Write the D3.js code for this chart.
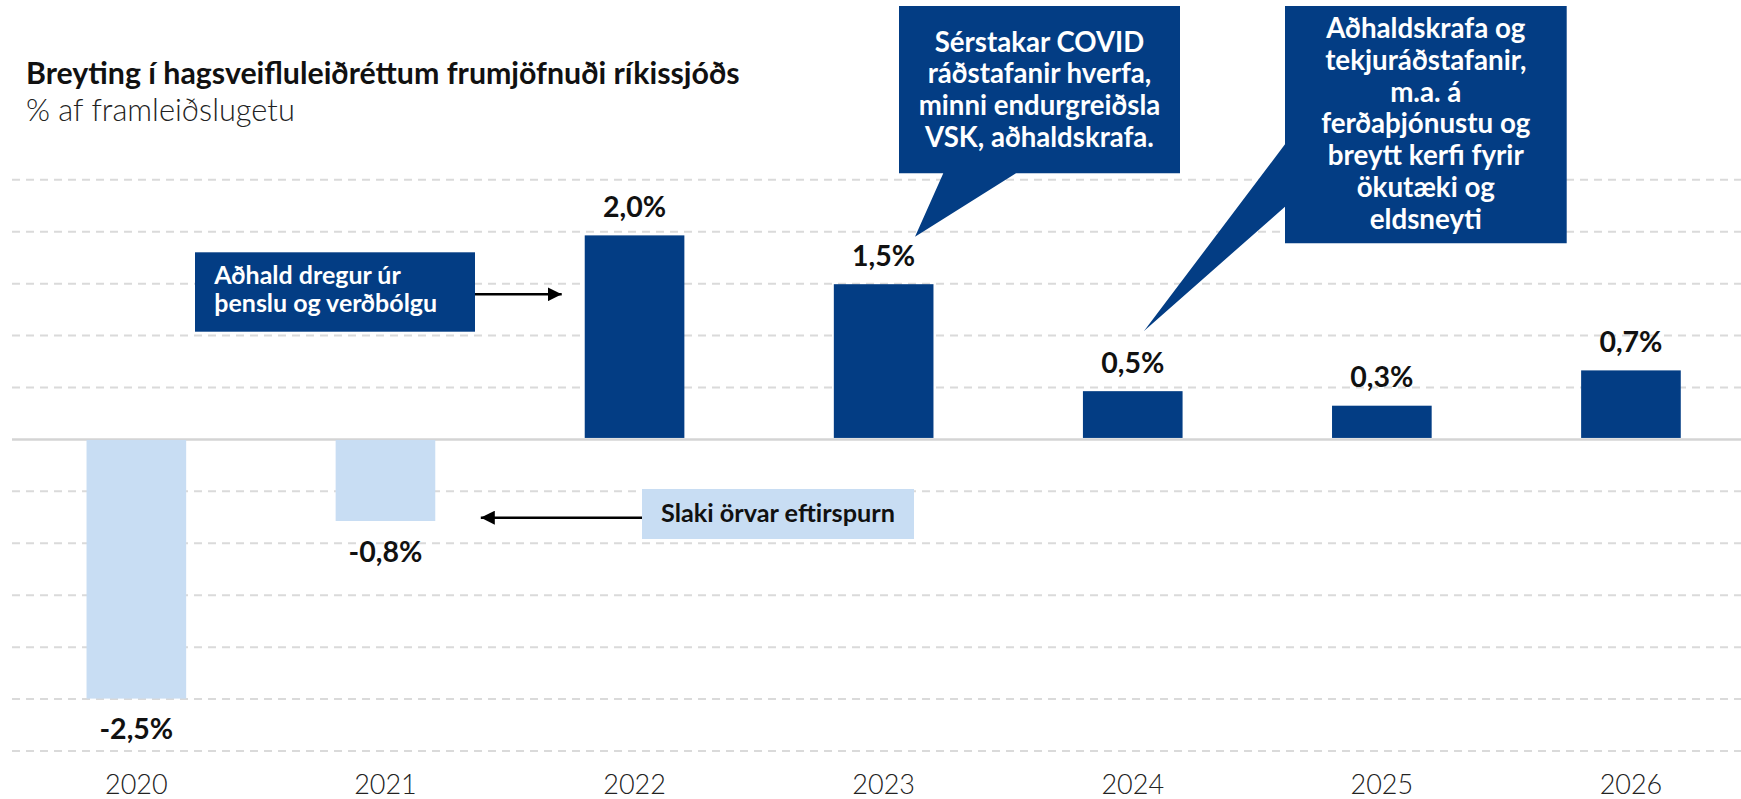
<!DOCTYPE html>
<html>
<head>
<meta charset="utf-8">
<script src="https://cdn.jsdelivr.net/npm/d3@7"></script>
<style>
  html, body { margin: 0; padding: 0; background: #fff; }
  svg { display: block; }
  text { font-family: Lato, "Open Sans", "Noto Sans", sans-serif; }
</style>
</head>
<body>
<svg id="chart" width="1741" height="799"></svg>
<script>
// ---- data ----
const years = ["2020", "2021", "2022", "2023", "2024", "2025", "2026"];
const values = [-2.5, -0.79, 1.96, 1.49, 0.46, 0.32, 0.66];
const yTicks = [-3, -2.5, -2, -1.5, -1, -0.5, 0, 0.5, 1, 1.5, 2, 2.5];
const title = "Breyting í hagsveifluleiðréttum frumjöfnuði ríkissjóðs";
const subtitle = "% af framleiðslugetu";
const noteTighten = ["Aðhald dregur úr", "þenslu og verðbólgu"];
const noteSlack = ["Slaki örvar eftirspurn"];
const note2023 = ["Sérstakar COVID", "ráðstafanir hverfa,", "minni endurgreiðsla", "VSK, aðhaldskrafa."];
const note2024 = ["Aðhaldskrafa og", "tekjuráðstafanir,", "m.a. á", "ferðaþjónustu og", "breytt kerfi fyrir", "ökutæki og", "eldsneyti"];

// ---- setup ----
const W = 1741, H = 799;
const dark = "#033d84", light = "#c8ddf3";
const svg = d3.select("#chart");

const x = d3.scaleBand().domain(years).range([11.8, 1755.5]).paddingInner(0.6).paddingOuter(0.3);
const y = d3.scaleLinear().domain([-3, 2.5]).range([750.5, 179.3]);

const loc = d3.formatLocale({decimal: ",", thousands: ".", grouping: [3], currency: ["", ""], minus: "-"});
const fmt = v => loc.format(".1f")(v) + "%";

function fit(sel, target) {
  const w = sel.node().getComputedTextLength();
  const fs = parseFloat(sel.attr("font-size"));
  sel.attr("font-size", fs * target / w);
}
// size all lines of a text block so that line `idx` gets width `target`
function fitBlock(sel, idx, target) {
  const node = sel.nodes()[idx];
  const w = node.getComputedTextLength();
  const fs = parseFloat(d3.select(node).attr("font-size"));
  sel.attr("font-size", fs * target / w);
}

// ---- title ----
svg.append("text").attr("x", 26).attr("y", 84.3).attr("font-size", 25).attr("font-weight", 700)
  .attr("fill", "#111").text(title).call(fit, 714);
svg.append("text").attr("x", 26).attr("y", 121).attr("font-size", 26).attr("font-weight", 300)
  .attr("fill", "#222").text(subtitle).call(fit, 269);

// ---- grid ----
const grid = svg.append("g").attr("transform", "translate(12,0)")
  .call(d3.axisRight(y).tickValues(yTicks).tickSize(W - 12).tickFormat(""));
grid.select(".domain").remove();
grid.selectAll(".tick line")
  .attr("stroke", d => d === 0 ? "#d4d4d4" : "#dadada")
  .attr("stroke-width", d => d === 0 ? 2.5 : 2)
  .attr("stroke-dasharray", d => d === 0 ? null : "8,6");

// ---- bars ----
const data = years.map((yr, i) => ({year: yr, value: values[i]}));
svg.append("g").selectAll("rect").data(data).join("rect")
  .attr("x", d => x(d.year))
  .attr("width", x.bandwidth())
  .attr("y", d => d.value >= 0 ? y(d.value) : y(0) + 1)
  .attr("height", d => d.value >= 0 ? y(0) - 1 - y(d.value) : y(d.value) - y(0) - 1)
  .attr("fill", d => d.value >= 0 ? dark : light);

// ---- value labels ----
svg.append("g").selectAll("text").data(data).join("text")
  .attr("x", d => x(d.year) + x.bandwidth() / 2)
  .attr("y", d => d.value >= 0 ? y(d.value) - 18.5 : y(d.value) + 40.6)
  .attr("text-anchor", "middle").attr("font-size", 28.5).attr("font-weight", 700).attr("fill", "#111")
  .text(d => fmt(d.value));

// ---- x axis ----
const xa = svg.append("g").call(d3.axisBottom(x).tickSize(0));
xa.select(".domain").remove();
xa.selectAll(".tick text").attr("y", 794).attr("dy", 0)
  .attr("font-size", 27).attr("font-weight", 300).attr("fill", "#222")
  .style("font-family", 'Lato, "Open Sans", sans-serif');

// ---- arrow marker ----
const defs = svg.append("defs");
defs.append("marker").attr("id", "ah").attr("viewBox", "0 0 10 10").attr("refX", 10).attr("refY", 5)
  .attr("markerWidth", 14).attr("markerHeight", 14).attr("markerUnits", "userSpaceOnUse").attr("orient", "auto")
  .append("path").attr("d", "M0,0 L10,5 L0,10 Z").attr("fill", "#000");

// ---- annotation: tightening ----
const g1 = svg.append("g");
g1.append("rect").attr("x", 195).attr("y", 252.3).attr("width", 280).attr("height", 79.4).attr("fill", dark);
g1.selectAll("text").data(noteTighten).join("text")
  .attr("x", 214.3).attr("y", (d, i) => 284.3 + i * 27.4)
  .attr("font-size", 22).attr("font-weight", 700).attr("fill", "#fff").text(d => d)
  .call(fitBlock, 1, 223);
g1.append("line").attr("x1", 475).attr("y1", 294.3).attr("x2", 561.7).attr("y2", 294.3)
  .attr("stroke", "#000").attr("stroke-width", 2.5).attr("marker-end", "url(#ah)");

// ---- annotation: slack ----
const g2 = svg.append("g");
g2.append("rect").attr("x", 642).attr("y", 489).attr("width", 272).attr("height", 50).attr("fill", light);
g2.selectAll("text").data(noteSlack).join("text")
  .attr("x", 661).attr("y", 521.7)
  .attr("font-size", 22).attr("font-weight", 700).attr("fill", "#111").text(d => d)
  .call(fitBlock, 0, 234);
g2.append("line").attr("x1", 642).attr("y1", 517.7).attr("x2", 480.8).attr("y2", 517.7)
  .attr("stroke", "#000").attr("stroke-width", 2.5).attr("marker-end", "url(#ah)");

// ---- callout 2023 ----
const c1 = svg.append("g");
c1.append("path").attr("fill", dark)
  .attr("d", "M899,6 H1180 V173.3 H1016 L915,236.7 L943.3,173.3 H899 Z");
c1.selectAll("text").data(note2023).join("text")
  .attr("x", 1039.5).attr("y", (d, i) => 51.7 + i * 31.7).attr("text-anchor", "middle")
  .attr("font-size", 23).attr("font-weight", 700).attr("fill", "#fff").text(d => d)
  .call(fitBlock, 2, 241.7);

// ---- callout 2024 ----
const c2 = svg.append("g");
c2.append("path").attr("fill", dark)
  .attr("d", "M1285,6 H1566.7 V243.3 H1285 V206.7 L1144,331 L1285,144.3 Z");
c2.selectAll("text").data(note2024).join("text")
  .attr("x", 1425.8).attr("y", (d, i) => 38.3 + i * 31.7).attr("text-anchor", "middle")
  .attr("font-size", 23).attr("font-weight", 700).attr("fill", "#fff").text(d => d)
  .call(fitBlock, 3, 209.3);
</script>
</body>
</html>
